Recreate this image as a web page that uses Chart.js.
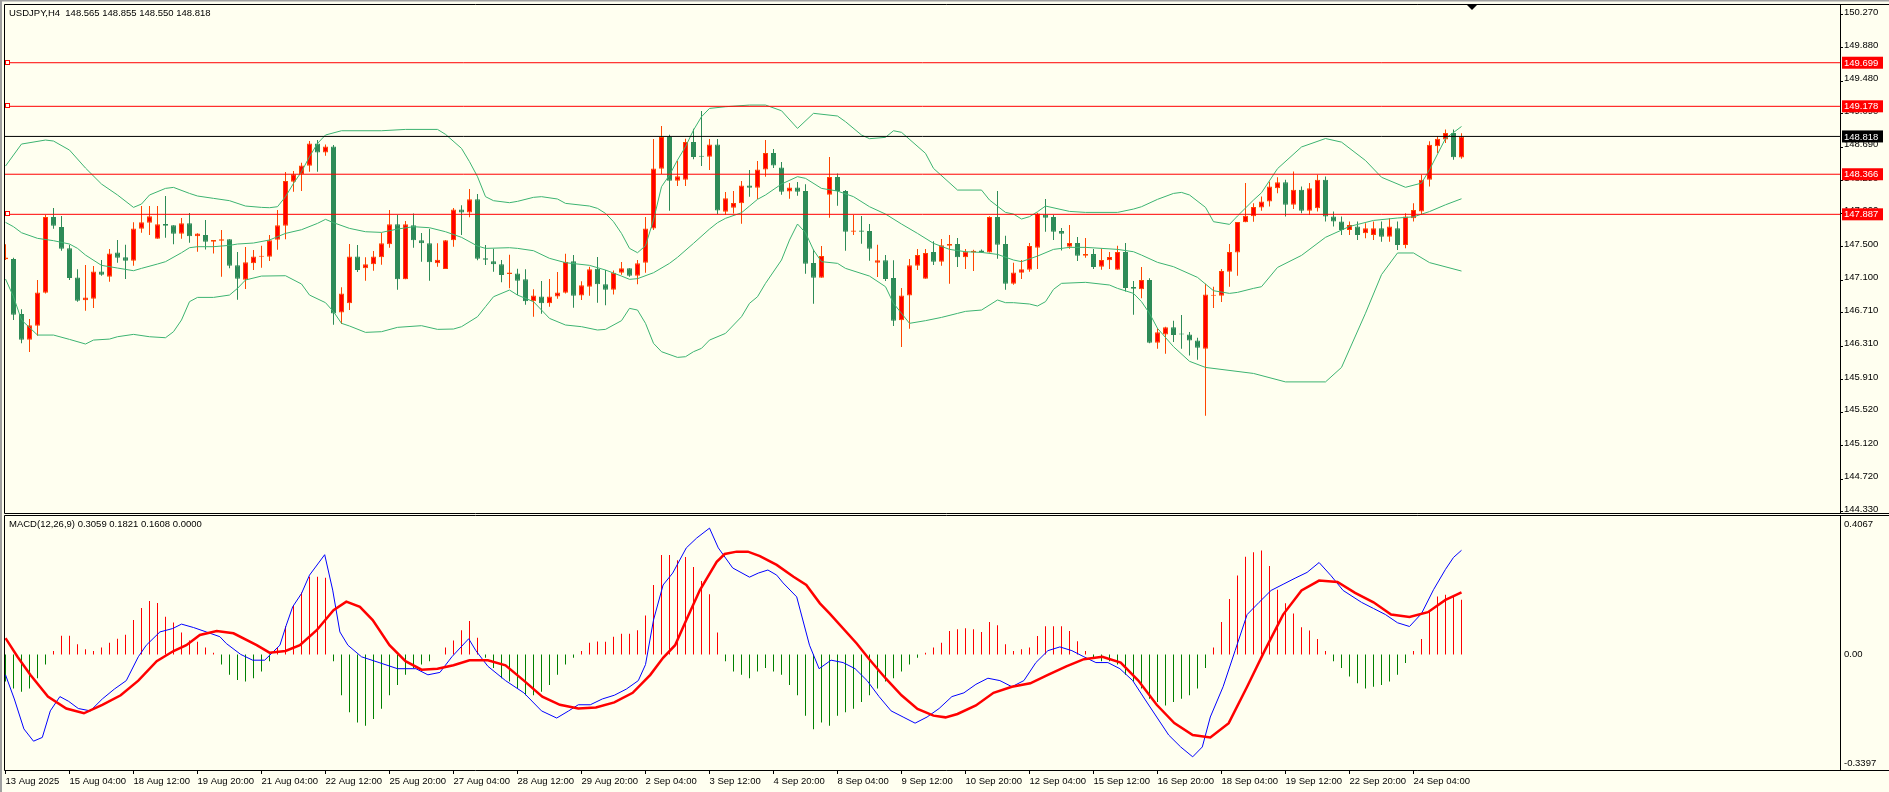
<!DOCTYPE html>
<html>
<head>
<meta charset="utf-8">
<script src="https://cdn.jsdelivr.net/npm/chart.js@4.4.1/dist/chart.umd.min.js"></script>
<style>
  html, body { margin: 0; padding: 0; background: #fffff0; }
  #wrap { position: relative; width: 1889px; height: 792px; background: #fffff0; overflow: hidden; }
  #price { position: absolute; left: 0; top: 0; }
  #macd { position: absolute; left: 0; top: 514px; }
</style>
</head>
<body>
<div id="wrap">
  <canvas id="price" width="1889" height="520"></canvas>
  <canvas id="macd" width="1889" height="278"></canvas>
</div>
<script>
// USDJPY H4, 183 bars from 13 Aug 2025 20:00 to 25 Sep 04:00 (index = bar number)
const headerText = "USDJPY,H4  148.565 148.855 148.550 148.818";
const macdText = "MACD(12,26,9) 0.3059 0.1821 0.1608 0.0000";

const openP = [147.350,147.353,146.695,146.388,146.556,146.950,147.855,147.735,147.480,147.133,146.859,146.879,147.205,147.141,147.432,147.373,147.333,147.715,147.787,147.596,147.771,147.755,147.655,147.779,147.624,147.640,147.560,147.572,147.588,147.277,147.106,147.301,147.380,147.380,147.584,147.751,148.277,148.365,148.468,148.735,148.627,148.699,146.715,146.823,147.384,147.241,147.289,147.373,147.528,147.767,147.110,147.755,147.576,147.540,147.301,147.233,147.576,147.946,147.910,148.066,147.361,147.325,147.289,147.173,147.181,147.110,146.847,146.906,146.823,146.906,146.950,147.325,146.918,147.022,147.237,147.050,146.986,147.189,147.241,147.153,147.309,147.719,148.432,148.811,148.289,148.301,148.751,148.584,148.576,148.723,147.918,147.966,148.018,148.233,148.205,148.424,148.619,148.448,148.161,148.209,148.165,147.305,147.130,148.121,148.333,148.165,147.679,147.695,147.687,147.309,147.337,147.126,146.620,146.918,147.273,147.118,147.436,147.321,147.512,147.532,147.373,147.432,147.456,147.432,147.855,147.532,147.058,147.189,147.225,147.488,147.882,147.855,147.687,147.500,147.544,147.392,147.412,147.261,147.337,147.225,147.436,147.018,146.990,147.102,146.353,146.452,146.536,146.460,146.452,146.380,146.280,146.914,146.914,147.201,147.432,147.791,147.863,147.970,148.040,148.200,148.270,148.000,148.180,147.930,147.960,148.300,147.860,147.800,147.700,147.740,147.660,147.640,147.720,147.620,147.720,147.520,147.840,147.920,148.300,148.700,148.780,148.860,148.565];
const highP = [147.530,147.369,146.751,146.636,147.102,147.878,147.962,147.867,147.524,147.229,147.281,147.269,147.341,147.472,147.580,147.524,147.791,147.986,147.986,147.986,148.106,147.755,147.843,147.902,147.660,147.819,147.580,147.699,147.588,147.436,147.496,147.460,147.512,147.640,147.938,148.392,148.404,148.504,148.763,148.775,148.723,148.715,147.014,147.532,147.520,147.373,147.448,147.667,147.938,147.878,147.807,147.898,147.663,147.715,147.540,147.580,147.962,147.994,148.189,148.130,147.520,147.476,147.341,147.404,147.237,147.229,146.990,147.090,147.114,147.197,147.416,147.400,147.086,147.261,147.376,147.221,147.217,147.317,147.241,147.341,147.855,148.787,148.942,148.839,148.524,148.791,148.910,149.121,148.787,148.787,148.153,148.165,148.285,148.416,148.524,148.775,148.667,148.512,148.261,148.273,148.245,147.468,147.508,148.572,148.376,148.177,147.878,147.867,147.771,147.524,147.400,147.337,147.006,147.353,147.472,147.472,147.564,147.592,147.640,147.604,147.472,147.464,147.468,147.863,148.165,147.632,147.309,147.341,147.544,147.906,148.070,147.878,147.723,147.759,147.616,147.604,147.472,147.476,147.436,147.512,147.544,147.090,147.257,147.122,146.524,146.544,146.616,146.683,146.480,146.412,147.058,147.022,147.233,147.532,147.795,148.261,148.018,148.100,148.280,148.330,148.300,148.400,148.220,148.260,148.360,148.340,147.920,147.860,147.800,147.800,147.780,147.800,147.800,147.840,147.800,147.900,148.020,148.360,148.760,148.820,148.900,148.900,148.855];
const lowP = [147.340,146.624,146.345,146.240,146.436,146.942,147.715,147.452,147.102,146.843,146.735,146.767,147.153,147.082,147.309,147.114,147.273,147.667,147.640,147.596,147.608,147.528,147.596,147.548,147.440,147.468,147.420,147.141,147.241,146.867,146.994,147.221,147.249,147.329,147.464,147.588,148.157,148.165,148.396,148.396,148.588,146.568,146.576,146.743,147.197,147.094,147.213,147.285,147.488,146.986,147.110,147.488,147.321,147.094,147.261,147.233,147.500,147.640,147.851,147.337,147.281,147.201,147.074,147.002,146.922,146.807,146.663,146.699,146.783,146.879,146.942,146.771,146.863,146.914,146.831,146.799,146.930,147.165,147.141,147.050,147.189,147.699,148.369,147.930,148.225,148.225,148.544,148.464,148.416,147.890,147.882,147.898,147.775,148.098,148.070,148.337,148.440,148.121,148.074,148.110,147.177,146.819,147.130,147.847,147.990,147.452,147.640,147.536,147.333,147.137,147.090,146.552,146.300,146.520,147.221,147.118,147.281,147.273,147.058,147.257,147.233,147.209,147.428,147.432,147.357,146.986,147.046,147.114,147.201,147.233,147.679,147.580,147.456,147.476,147.329,147.369,147.233,147.225,147.233,147.225,146.966,146.687,146.883,146.345,146.281,146.220,146.361,146.280,146.200,146.150,145.480,146.767,146.839,147.022,147.153,147.791,147.799,147.930,147.980,148.140,147.860,147.950,147.900,147.880,147.920,147.800,147.740,147.640,147.640,147.580,147.600,147.580,147.560,147.560,147.460,147.480,147.800,147.880,148.220,148.620,148.740,148.540,148.550];
const closeP = [147.370,146.687,146.388,146.560,146.954,147.855,147.751,147.476,147.125,146.855,146.894,147.205,147.165,147.420,147.369,147.333,147.719,147.791,147.863,147.767,147.751,147.655,147.779,147.624,147.659,147.560,147.580,147.588,147.273,147.118,147.313,147.384,147.392,147.576,147.755,148.285,148.365,148.472,148.735,148.627,148.699,146.703,146.942,147.384,147.221,147.289,147.384,147.540,147.767,147.110,147.767,147.576,147.540,147.313,147.345,147.576,147.946,147.910,148.066,147.357,147.345,147.289,147.161,147.193,147.094,146.847,146.918,146.823,146.906,146.954,147.321,146.914,147.038,147.229,147.050,146.986,147.189,147.241,147.153,147.301,147.719,148.436,148.811,148.289,148.341,148.751,148.572,148.576,148.723,147.934,148.078,148.022,148.233,148.205,148.424,148.619,148.472,148.157,148.209,148.157,147.297,147.130,147.388,148.333,148.165,147.679,147.695,147.679,147.476,147.337,147.114,146.616,146.918,147.277,147.400,147.424,147.321,147.516,147.532,147.373,147.440,147.452,147.432,147.855,147.524,147.058,147.193,147.229,147.508,147.898,147.847,147.679,147.655,147.544,147.392,147.412,147.257,147.341,147.376,147.436,147.006,146.998,147.102,146.353,146.476,146.536,146.444,146.452,146.380,146.293,146.930,146.922,147.209,147.436,147.795,147.870,147.974,148.040,148.220,148.270,148.000,148.180,147.930,148.200,148.300,147.860,147.800,147.700,147.760,147.640,147.720,147.720,147.620,147.740,147.520,147.860,147.940,148.300,148.720,148.790,148.860,148.570,148.818];

// Bollinger bands: [bar, price]
const bbUpper = [[0,148.464],[2,148.727],[5,148.775],[6,148.763],[8,148.655],[10,148.440],[12,148.249],[14,148.118],[16,147.970],[17,148.010],[18,148.118],[20,148.197],[21,148.209],[23,148.137],[24,148.106],[26,148.078],[28,148.050],[30,147.986],[32,147.970],[33,147.966],[34,147.978],[35,148.098],[36,148.257],[37,148.396],[38,148.576],[39,148.735],[40,148.835],[42,148.886],[47,148.886],[50,148.902],[54,148.902],[55,148.843],[57,148.675],[58,148.516],[59,148.337],[60,148.098],[61,148.050],[63,148.026],[64,148.042],[66,148.090],[67,148.098],[69,148.070],[70,148.018],[73,147.986],[74,147.958],[75,147.898],[76,147.799],[77,147.659],[78,147.480],[79,147.428],[80,147.512],[81,147.819],[82,148.217],[83,148.357],[84,148.536],[85,148.695],[86,148.894],[87,149.054],[88,149.153],[90,149.173],[93,149.193],[95,149.193],[97,149.125],[99,148.914],[101,149.094],[104,149.062],[105,148.994],[107,148.835],[108,148.791],[110,148.807],[111,148.886],[112,148.867],[115,148.616],[116,148.436],[119,148.177],[122,148.177],[123,148.058],[125,147.910],[126,147.890],[127,147.831],[128,147.859],[129,147.918],[130,147.986],[133,147.922],[135,147.910],[139,147.910],[141,147.950],[142,147.978],[144,148.066],[146,148.137],[147,148.149],[148,148.118],[150,147.970],[151,147.799],[153,147.767],[154,147.867],[156,148.058],[157,148.145],[159,148.433],[162,148.692],[165,148.793],[167,148.750],[170,148.530],[172,148.330],[175,148.210],[177,148.260],[178,148.420],[180,148.793],[182,148.937]];
const bbMiddle = [[0,147.791],[1,147.739],[2,147.667],[4,147.600],[6,147.572],[8,147.532],[9,147.480],[10,147.400],[12,147.277],[14,147.245],[16,147.213],[17,147.241],[19,147.293],[20,147.321],[22,147.428],[23,147.488],[24,147.500],[26,147.500],[28,147.516],[29,147.532],[31,147.544],[33,147.580],[35,147.659],[37,147.703],[39,147.779],[40,147.827],[41,147.787],[43,147.719],[45,147.679],[47,147.671],[49,147.711],[51,147.739],[53,147.727],[55,147.679],[57,147.612],[59,147.508],[60,147.480],[63,147.488],[64,147.480],[66,147.452],[68,147.361],[70,147.309],[73,147.277],[75,147.221],[77,147.149],[78,147.110],[79,147.118],[81,147.189],[83,147.301],[84,147.373],[86,147.540],[88,147.711],[89,147.787],[90,147.839],[92,147.906],[93,147.986],[94,148.066],[95,148.118],[97,148.249],[99,148.337],[100,148.317],[102,148.197],[104,148.165],[106,148.098],[108,147.978],[110,147.890],[112,147.771],[114,147.659],[116,147.540],[118,147.468],[120,147.440],[122,147.432],[124,147.408],[126,147.341],[127,147.321],[129,147.388],[131,147.468],[133,147.492],[135,147.492],[139,147.468],[141,147.440],[142,147.400],[144,147.313],[146,147.261],[149,147.133],[151,146.974],[153,146.942],[154,146.954],[156,147.002],[157,147.022],[159,147.252],[162,147.396],[165,147.612],[168,147.742],[171,147.814],[174,147.843],[176,147.857],[178,147.920],[180,148.001],[182,148.073]];
const bbLower = [[0,147.114],[1,146.902],[2,146.624],[4,146.444],[6,146.444],[8,146.392],[10,146.337],[11,146.384],[13,146.396],[14,146.424],[16,146.452],[18,146.424],[20,146.412],[21,146.484],[22,146.624],[23,146.843],[24,146.894],[26,146.894],[28,146.922],[29,147.002],[30,147.102],[32,147.149],[35,147.153],[37,147.054],[38,146.922],[40,146.831],[41,146.723],[42,146.584],[43,146.552],[45,146.476],[47,146.484],[49,146.536],[52,146.556],[54,146.512],[56,146.516],[57,146.544],[59,146.663],[60,146.783],[61,146.902],[63,146.982],[64,146.922],[66,146.843],[68,146.643],[70,146.564],[72,146.544],[74,146.504],[75,146.512],[77,146.616],[78,146.763],[79,146.743],[80,146.584],[81,146.345],[82,146.245],[84,146.177],[85,146.185],[86,146.245],[87,146.285],[88,146.384],[90,146.464],[92,146.663],[93,146.823],[94,146.902],[95,147.062],[97,147.341],[98,147.580],[99,147.771],[100,147.667],[101,147.460],[102,147.321],[104,147.301],[105,147.241],[108,147.149],[110,147.022],[111,146.823],[113,146.584],[115,146.616],[117,146.655],[119,146.703],[120,146.727],[122,146.743],[124,146.863],[125,146.831],[126,146.831],[128,146.815],[129,146.791],[130,146.843],[131,146.990],[132,147.062],[135,147.074],[138,147.042],[139,147.002],[141,146.942],[142,146.843],[143,146.703],[144,146.524],[146,146.305],[148,146.130],[150,146.057],[156,145.985],[160,145.884],[165,145.884],[167,146.057],[170,146.705],[172,147.166],[174,147.425],[176,147.425],[178,147.310],[182,147.209]];

// horizontal lines
const redLevels = [149.699, 149.178, 148.366, 147.887];
const levelAnchor = [true, true, false, true];
const lastPrice = 148.818;

const priceTicks = [150.270,149.880,149.480,149.090,148.690,148.290,147.900,147.500,147.100,146.710,146.310,145.910,145.520,145.120,144.720,144.330];
const timeLabels = ["13 Aug 2025","15 Aug 04:00","18 Aug 12:00","19 Aug 20:00","21 Aug 04:00","22 Aug 12:00","25 Aug 20:00","27 Aug 04:00","28 Aug 12:00","29 Aug 20:00","2 Sep 04:00","3 Sep 12:00","4 Sep 20:00","8 Sep 04:00","9 Sep 12:00","10 Sep 20:00","12 Sep 04:00","15 Sep 12:00","16 Sep 20:00","18 Sep 04:00","19 Sep 12:00","22 Sep 20:00","24 Sep 04:00"];
const labelEvery = 8;

// MACD window
const macdHist = [-0.080,-0.100,-0.110,-0.100,-0.070,-0.030,0.010,0.055,0.055,0.030,0.015,0.010,0.020,0.034,0.046,0.058,0.101,0.136,0.157,0.151,0.111,0.094,0.064,0.041,0.037,0.020,0.005,-0.030,-0.060,-0.075,-0.080,-0.070,-0.050,-0.020,0.020,0.083,0.142,0.182,0.228,0.228,0.225,-0.020,-0.120,-0.170,-0.200,-0.210,-0.190,-0.160,-0.120,-0.090,-0.060,-0.040,-0.030,-0.020,0.000,0.020,0.041,0.071,0.098,0.049,-0.010,-0.040,-0.070,-0.080,-0.100,-0.120,-0.120,-0.110,-0.090,-0.060,-0.030,-0.010,0.010,0.034,0.038,0.037,0.052,0.061,0.061,0.071,0.114,0.204,0.292,0.292,0.277,0.286,0.257,0.216,0.177,0.064,-0.020,-0.050,-0.060,-0.070,-0.050,-0.040,-0.050,-0.060,-0.090,-0.120,-0.180,-0.220,-0.200,-0.210,-0.180,-0.170,-0.160,-0.140,-0.120,-0.100,-0.080,-0.070,-0.050,-0.030,-0.010,0.005,0.020,0.034,0.069,0.074,0.077,0.074,0.066,0.095,0.086,0.030,0.010,0.015,0.020,0.054,0.083,0.083,0.083,0.069,0.039,0.010,-0.010,-0.020,-0.020,-0.030,-0.060,-0.080,-0.100,-0.130,-0.140,-0.150,-0.140,-0.130,-0.120,-0.100,-0.040,0.020,0.095,0.163,0.232,0.287,0.300,0.305,0.260,0.190,0.150,0.120,0.080,0.070,0.045,0.010,-0.020,-0.040,-0.065,-0.085,-0.100,-0.095,-0.090,-0.080,-0.060,-0.025,0.010,0.045,0.130,0.170,0.175,0.170,0.1608];
const macdMain = [[0,-0.060],[1.1,-0.131],[2.3,-0.219],[3.5,-0.255],[4.6,-0.244],[5.6,-0.166],[6.8,-0.124],[7.9,-0.138],[9.1,-0.159],[10.6,-0.166],[12.1,-0.131],[13.6,-0.102],[15.1,-0.077],[16.6,-0.007],[17.6,0.027],[19.3,0.066],[20.9,0.076],[22,0.089],[23.5,0.079],[25.1,0.066],[26.8,0.052],[27.6,0.032],[29.4,0.000],[30.9,-0.017],[32.4,-0.017],[34.3,0.027],[35.1,0.086],[35.9,0.140],[37,0.179],[38,0.233],[39.9,0.293],[40.9,0.189],[41.8,0.066],[42.8,0.027],[44.5,-0.007],[46.7,-0.024],[49,-0.042],[51.3,-0.042],[52.8,-0.060],[54.3,-0.053],[55.8,-0.007],[57.9,0.046],[58.8,0.011],[60.3,-0.035],[62.5,-0.077],[64.8,-0.113],[67,-0.166],[68.9,-0.187],[70.4,-0.166],[71.6,-0.148],[73.1,-0.148],[74.6,-0.131],[76.1,-0.120],[77.6,-0.102],[79.1,-0.077],[80,-0.030],[81,0.101],[82.2,0.204],[83.4,0.239],[85.1,0.313],[86.4,0.342],[88,0.371],[89.1,0.313],[90.9,0.254],[93,0.227],[94.1,0.239],[95.3,0.248],[96.4,0.233],[97.2,0.210],[98.9,0.169],[100.5,0.027],[101.7,-0.042],[103.2,-0.017],[104.7,-0.024],[106.2,-0.042],[107.7,-0.077],[109.2,-0.124],[110.7,-0.166],[112.2,-0.184],[113.7,-0.202],[115.2,-0.184],[116.7,-0.159],[118.3,-0.124],[119.8,-0.113],[121.3,-0.088],[122.8,-0.070],[124.3,-0.077],[125.8,-0.095],[127.3,-0.077],[128.8,-0.024],[130.3,0.011],[131.8,0.022],[133.3,0.011],[134.8,-0.007],[136.3,-0.024],[137.8,-0.024],[139.3,-0.042],[140.9,-0.077],[142.4,-0.131],[143.9,-0.184],[145.4,-0.237],[146.9,-0.272],[148.4,-0.301],[149.6,-0.272],[150.6,-0.184],[152.2,-0.095],[153.7,0.011],[155.2,0.117],[156.7,0.153],[158.2,0.188],[159.7,0.206],[161.2,0.224],[162.7,0.241],[164.2,0.270],[165.7,0.231],[167.2,0.188],[169.5,0.153],[171,0.135],[172.5,0.117],[174,0.093],[175.5,0.082],[177,0.120],[178.5,0.190],[180,0.250],[181,0.285],[182,0.3059]];
const macdSignal = [[0,0.048],[1.5,-0.007],[3.1,-0.060],[5.3,-0.124],[7.6,-0.159],[9.8,-0.173],[12.1,-0.148],[14.4,-0.120],[16.6,-0.077],[18.9,-0.020],[21,0.010],[22.6,0.027],[24.3,0.057],[26.4,0.069],[28.5,0.062],[31.4,0.027],[33,0.005],[35,0.010],[36.8,0.027],[38.9,0.071],[41,0.130],[42.6,0.155],[44.3,0.140],[45.9,0.101],[48,0.027],[50,-0.020],[52,-0.045],[54,-0.042],[56,-0.032],[58,-0.017],[60.3,-0.017],[62.5,-0.032],[64.8,-0.077],[67.1,-0.124],[69.3,-0.148],[71.6,-0.159],[73.8,-0.156],[76.1,-0.141],[78.4,-0.113],[80.6,-0.060],[82.2,-0.010],[83.7,0.027],[85.1,0.101],[86.8,0.189],[88.9,0.272],[89.9,0.295],[91.4,0.302],[92.8,0.302],[94.3,0.289],[96.4,0.263],[98.5,0.228],[100.1,0.204],[101.8,0.150],[103,0.1205],[106.4,0.032],[108,-0.015],[110,-0.070],[112,-0.120],[114,-0.160],[116,-0.180],[117.5,-0.185],[119,-0.175],[121.3,-0.150],[123.5,-0.113],[125.8,-0.095],[128.1,-0.085],[130.3,-0.060],[132.6,-0.035],[134.8,-0.014],[137.1,-0.007],[139.4,-0.024],[141.6,-0.077],[143.9,-0.148],[146.1,-0.202],[148.4,-0.237],[150.6,-0.244],[152.9,-0.202],[155.2,-0.095],[157.4,0.011],[159.7,0.117],[162,0.188],[164.2,0.217],[166.5,0.213],[168.7,0.181],[171,0.153],[173.2,0.117],[175.5,0.110],[177.8,0.124],[180,0.160],[182,0.1821]];
const macdAxis = { top: 0.4067, bottom: -0.3397 };

// look of the terminal
const BG = "#fffff0";
const UP = "#ff0000", UP_EDGE = "#ff4500", DOWN = "#2e8b57";
const BAND = "#3cb371";
const FONT_FAMILY = '"Liberation Sans", Arial, sans-serif';
const FONT = "9.5px " + FONT_FAMILY;
const AXIS_W = 49;
const PANEL_BOTTOM = 513;   // price window bottom edge (px)
// bar i is centred at 5.5 + 8*i px; plot area runs from 5 to 1840 px
const X_MIN = (5 - 5.5) / 8, X_MAX = (1840 - 5.5) / 8;

const idx = openP.map((_, i) => i);
const isUp = (i) => closeP[i] >= openP[i];
const pts = (arr) => arr.map(([x, y]) => ({ x, y }));

function hline(y, color) {
  return { type: "line", data: [{ x: X_MIN, y }, { x: X_MAX, y }], borderColor: color, borderWidth: 1,
           pointRadius: 0, order: 0 };
}
function band(arr) {
  return { type: "line", data: pts(arr), borderColor: BAND, borderWidth: 1, pointRadius: 0, tension: 0, order: 1 };
}

const fixRight = (s) => { s.width = AXIS_W; s.paddingTop = 0; s.paddingBottom = 0; };

const pricePlugin = {
  id: "priceDecor",
  afterDraw(chart) {
    const { ctx, chartArea: a, scales: { y } } = chart;
    const W = chart.width, B = PANEL_BOTTOM + 0.5;
    ctx.save();
    ctx.fillStyle = "#a0a0a0";
    ctx.fillRect(0, 0, W, 1.5);
    ctx.fillRect(0, 0, 2, B + 1);
    ctx.strokeStyle = "#000"; ctx.lineWidth = 1;
    ctx.beginPath();
    ctx.moveTo(4.5, 4.5); ctx.lineTo(W, 4.5);
    ctx.moveTo(4.5, 4.5); ctx.lineTo(4.5, B);
    ctx.moveTo(a.right + 0.5, 4.5); ctx.lineTo(a.right + 0.5, B);
    ctx.moveTo(4.5, B); ctx.lineTo(W, B);
    ctx.stroke();

    ctx.font = FONT; ctx.textBaseline = "middle"; ctx.fillStyle = "#000";
    ctx.fillText(headerText, 9, 13);

    // chart shift marker
    ctx.beginPath();
    ctx.moveTo(1467, 5); ctx.lineTo(1477, 5); ctx.lineTo(1472, 10); ctx.closePath();
    ctx.fill();

    // anchors at the left end of the red lines
    redLevels.forEach((lv, k) => {
      if (!levelAnchor[k]) return;
      const py = Math.round(y.getPixelForValue(lv));
      ctx.fillStyle = BG; ctx.fillRect(5.5, py - 2.5, 4, 4);
      ctx.strokeStyle = "#ff0000"; ctx.strokeRect(5.5, py - 2.5, 4, 4);
    });

    // value boxes on the price scale
    const box = (lv, color) => {
      const py = y.getPixelForValue(lv);
      ctx.fillStyle = color; ctx.fillRect(a.right + 2, py - 6, 41, 12);
      ctx.fillStyle = "#fff"; ctx.fillText(lv.toFixed(3), a.right + 4, py + 0.5);
    };
    redLevels.forEach((lv) => box(lv, "#ff0000"));
    box(lastPrice, "#000");
    ctx.restore();
  },
};

const macdPlugin = {
  id: "macdDecor",
  afterDraw(chart) {
    const { ctx, chartArea: a, scales: { y } } = chart;
    const W = chart.width;
    ctx.save();
    ctx.fillStyle = "#a0a0a0";
    ctx.fillRect(0, 0, 2, chart.height);
    ctx.strokeStyle = "#000"; ctx.lineWidth = 1;
    ctx.beginPath();
    ctx.moveTo(4.5, 1.5); ctx.lineTo(W, 1.5);
    ctx.moveTo(4.5, 1.5); ctx.lineTo(4.5, a.bottom + 0.5);
    ctx.moveTo(a.right + 0.5, 1.5); ctx.lineTo(a.right + 0.5, a.bottom + 0.5);
    ctx.moveTo(4.5, a.bottom + 0.5); ctx.lineTo(W, a.bottom + 0.5);
    ctx.stroke();
    ctx.font = FONT; ctx.textBaseline = "middle"; ctx.fillStyle = "#000";
    ctx.fillText(macdText, 9, 10);
    const lx = a.right + 4;
    ctx.fillText(macdAxis.top.toFixed(4), lx, 10);
    ctx.fillText("0.00", lx, y.getPixelForValue(0));
    ctx.fillText(macdAxis.bottom.toFixed(4), lx, a.bottom - 7);
    ctx.restore();
  },
};

Chart.defaults.font.family = FONT_FAMILY;
Chart.defaults.font.size = 9.5;
Chart.defaults.color = "#000";

new Chart(document.getElementById("price"), {
  type: "bar",
  data: {
    datasets: [
      { data: idx.map((i) => ({ x: i, y: [lowP[i], highP[i]] })), grouped: false, barThickness: 1,
        backgroundColor: (c) => (isUp(c.dataIndex) ? UP_EDGE : DOWN), borderWidth: 0, inflateAmount: 0, order: 3 },
      { data: idx.map((i) => ({ x: i, y: [openP[i], closeP[i]] })), grouped: false, barThickness: 5,
        minBarLength: 1, borderSkipped: false, inflateAmount: 0, borderWidth: 1,
        backgroundColor: (c) => (isUp(c.dataIndex) ? UP : DOWN),
        borderColor: (c) => (isUp(c.dataIndex) ? UP_EDGE : DOWN), order: 2 },
      band(bbUpper), band(bbMiddle), band(bbLower),
      ...redLevels.map((lv) => hline(lv, "#ff0000")),
      hline(lastPrice, "#000000"),
    ],
  },
  options: {
    responsive: false, animation: false, devicePixelRatio: 1, events: [],
    layout: { padding: { left: 5, top: 5, right: 0, bottom: 520 - PANEL_BOTTOM } },
    plugins: { legend: { display: false }, tooltip: { enabled: false } },
    scales: {
      x: { type: "linear", min: X_MIN, max: X_MAX, offset: false, display: false },
      y: {
        position: "right", min: 144.317, max: 150.389,
        afterFit: fixRight,
        afterBuildTicks: (s) => { s.ticks = priceTicks.map((v) => ({ value: v })); },
        ticks: { callback: (v) => Number(v).toFixed(3), autoSkip: false, padding: 1, labelOffset: -2.5, font: { size: 9.5 } },
        grid: { drawOnChartArea: false, drawTicks: true, tickLength: 3, color: "#000" },
        border: { display: false },
      },
    },
  },
  plugins: [pricePlugin],
});

new Chart(document.getElementById("macd"), {
  type: "bar",
  data: {
    datasets: [
      { data: idx.map((i) => ({ x: i, y: macdHist[i] })), grouped: false, barThickness: 1, inflateAmount: 0,
        backgroundColor: (c) => (macdHist[c.dataIndex] >= 0 ? "#ff0000" : "#008000"), borderWidth: 0, order: 3 },
      { type: "line", data: pts(macdMain), borderColor: "#0000ff", borderWidth: 1, pointRadius: 0, tension: 0, order: 2 },
      { type: "line", data: pts(macdSignal), borderColor: "#ff0000", borderWidth: 2.5, pointRadius: 0, tension: 0, order: 1 },
    ],
  },
  options: {
    responsive: false, animation: false, devicePixelRatio: 1, events: [],
    layout: { padding: { left: 5, top: 2, right: 0, bottom: 0 } },
    plugins: { legend: { display: false }, tooltip: { enabled: false } },
    scales: {
      x: {
        type: "linear", min: X_MIN, max: X_MAX, offset: false, position: "bottom",
        afterFit: (s) => { s.height = 22; s.paddingLeft = 0; s.paddingRight = 0; },
        afterBuildTicks: (s) => { s.ticks = timeLabels.map((_, k) => ({ value: k * labelEvery })); },
        ticks: { callback: (v, k) => timeLabels[k], align: "start", autoSkip: false, maxRotation: 0, padding: 2 },
        grid: { drawOnChartArea: false, drawTicks: true, tickLength: 4, color: "#000", offset: false },
        border: { display: false },
      },
      y: {
        position: "right", min: macdAxis.bottom, max: macdAxis.top,
        afterFit: fixRight,
        ticks: { display: false }, grid: { display: false }, border: { display: false },
      },
    },
  },
  plugins: [macdPlugin],
});
</script>
</body>
</html>
